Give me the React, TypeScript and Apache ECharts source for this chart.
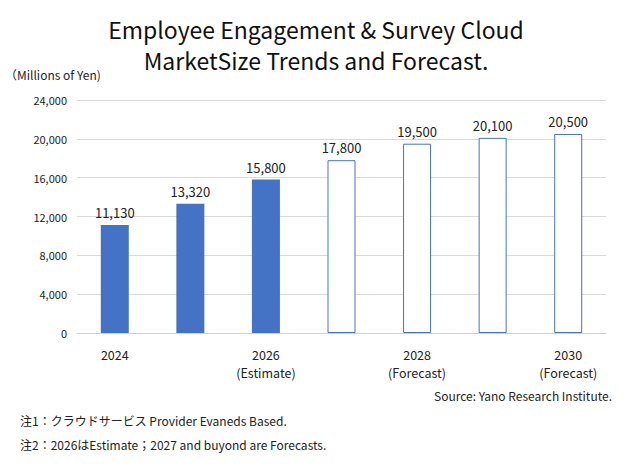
import { useEffect, useRef } from 'react';
import * as echarts from 'echarts';

const categories = ['2024', '2025', '2026\n(Estimate)', '2027\n(Forecast)', '2028\n(Forecast)', '2029\n(Forecast)', '2030\n(Forecast)'];
const values = [11130, 13320, 15800, 17800, 19500, 20100, 20500];
const actualCount = 3;

const FONT = '"Noto Sans CJK JP", "Noto Sans", sans-serif';
const BLUE = '#4472C4';

export default function App() {
  const container = useRef<HTMLDivElement>(null);

  useEffect(() => {
    if (!container.current) return;
    const chart = echarts.init(container.current, null, { renderer: 'svg' });

    chart.setOption({
      animation: false,
      textStyle: { fontFamily: FONT },
      title: {
        text: 'Employee Engagement & Survey Cloud\nMarketSize Trends and Forecast.',
        left: 'center',
        top: 8,
        textStyle: { fontSize: 23, fontWeight: 'normal', color: '#111', lineHeight: 31, fontFamily: FONT },
      },
      grid: { left: 77, right: 26, top: 100, bottom: 139, containLabel: false },
      xAxis: {
        type: 'category',
        data: categories,
        axisTick: { show: false },
        axisLine: { lineStyle: { color: '#d0d0d0' } },
        axisLabel: { color: '#222', fontSize: 12.5, lineHeight: 18, margin: 12, fontFamily: FONT },
      },
      yAxis: {
        type: 'value',
        min: 0,
        max: 24000,
        interval: 4000,
        name: '（Millions of Yen)',
        nameLocation: 'end',
        nameGap: 20,
        nameTextStyle: { color: '#222', fontSize: 12, align: 'left', padding: [0, 0, 0, -72] },
        axisLine: { show: false },
        axisTick: { show: false },
        axisLabel: {
          color: '#222',
          fontSize: 11,
          margin: 10,
          formatter: (v: number) => v.toLocaleString('en-US'),
        },
        splitLine: { lineStyle: { color: '#d9d9d9' } },
      },
      series: [
        {
          type: 'bar',
          barWidth: 28,
          data: values.map((v, i) => ({
            value: v,
            itemStyle: i < actualCount
              ? { color: BLUE }
              : { color: '#fff', borderColor: BLUE, borderWidth: 1 },
          })),
          label: {
            show: true,
            position: 'top',
            color: '#222',
            fontSize: 13,
            distance: 6,
            formatter: (p: any) => Number(p.value).toLocaleString('en-US'),
          },
        },
      ],
      graphic: [
        { type: 'text', right: 20, top: 389, style: { text: 'Source: Yano Research Institute.', fontSize: 12, fill: '#222', fontFamily: FONT } },
        { type: 'text', left: 20, top: 414, style: { text: '注1：クラウドサービス Provider Evaneds Based.', fontSize: 12, fill: '#222', fontFamily: FONT } },
        { type: 'text', left: 20, top: 438, style: { text: '注2：2026はEstimate；2027 and buyond are Forecasts.', fontSize: 12, fill: '#222', fontFamily: FONT } },
      ],
    });

    return () => chart.dispose();
  }, []);

  return (
    <div ref={container} style={{ position: 'fixed', left: 0, top: 0, width: 632, height: 472, background: '#fff' }}></div>
  );
}
